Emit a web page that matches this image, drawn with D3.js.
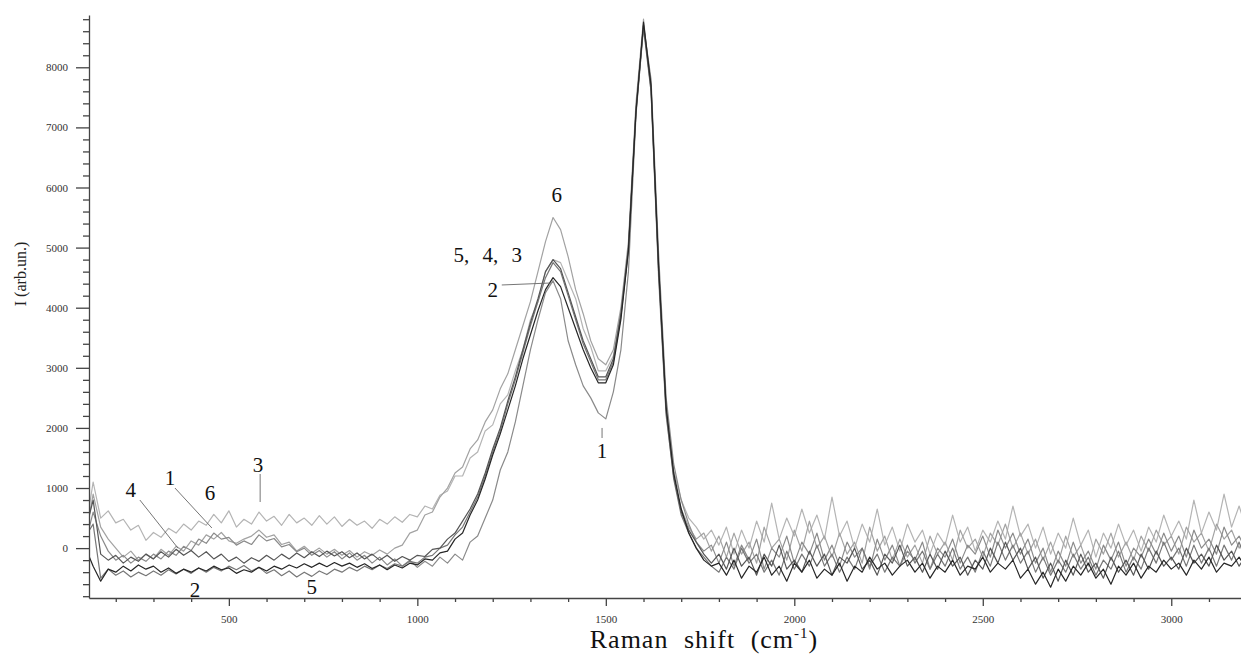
<!DOCTYPE html>
<html>
<head>
<meta charset="utf-8">
<script src="https://cdn.jsdelivr.net/npm/d3@7"></script>
<style>
    body { margin: 0; background: #fff; }
    svg { display: block; font-family: "Liberation Serif", "Times New Roman", serif; }
</style>
</head>
<body>
<div id="ramanChart"></div>
<script>
// Raman spectra of samples 1-6, sampled every 20 cm-1 from 120 cm-1
const shiftStart = 120;
const shiftStep = 20;

const series1 = [
    100, 600, 200, -50, -200, -120, -250, -150, -220, -100,
    -180, -50, -120, 30, -40, 150, 80, 250, 150, 180,
    50, 120, 60, 220, 120, 160, 20, 60, -60, 0,
    -120, -40, -150, -60, -180, -80, -200, -120, -250, -150,
    -280, -180, -300, -200, -320, -220, -300, -150, -250, -100,
    -200, 100, 200, 500, 800, 1300, 1600, 2100, 2700, 3300,
    3800, 4250, 4450, 4150, 3450, 3050, 2700, 2500, 2250, 2150,
    2600, 3300, 4600, 7200, 8700, 7800, 4900, 2500, 1400, 800,
    400, 100, -50, 50, -250, 100, -300, 50, -200, 150,
    -350, 0, -150, 200, -250, 100, -100, 250, -200, 50,
    -300, 100, -150, 0, -350, 150, -200, 50, -300, -50,
    -200, 100, -350, 0, -150, 150, -250, 50, -100, 200,
    -150, 300, 0, 250, -100, 150, -250, 0, -400, -50,
    -300, 100, -250, -50, -350, 50, -200, 100, -300, 0,
    -150, 150, -100, 250, -50, 200, -150, 300, 0, 150,
    -100, 350, 50, 200, -50
];

const series2 = [
    0, -300, -550, -350, -400, -300, -380, -280, -350, -300,
    -400, -330, -420, -350, -400, -330, -380, -300, -360, -330,
    -420, -360, -400, -320, -380, -300, -350, -280, -330, -260,
    -320, -250, -310, -240, -300, -250, -320, -260, -340, -280,
    -360, -280, -330, -250, -280, -180, -200, -80, -50, 150,
    250, 550, 800, 1150, 1550, 1900, 2300, 2700, 3150, 3550,
    3950, 4300, 4500, 4350, 4000, 3650, 3300, 3000, 2750, 2750,
    3050, 3800, 4950, 7250, 8750, 7700, 4700, 2350, 1250, 650,
    250, 0, -200, -300, -250, -450, -200, -500, -300, -400,
    -150, -450, -300, -550, -250, -400, -200, -500, -350, -450,
    -250, -550, -300, -400, -150, -350, -250, -450, -300, -200,
    -400, -250, -500, -300, -400, -200, -450, -300, -350, -150,
    -400, -250, -350, -200, -500, -350, -600, -400, -650, -350,
    -550, -300, -450, -250, -500, -350, -600, -300, -450, -250,
    -500, -300, -400, -200, -350, -250, -450, -200, -350, -150,
    -400, -250, -300, -150, -350
];

const series3 = [
    300, 1100, 500, 620, 420, 480, 300, 380, 130, 260,
    180, 330, 250, 400, 300, 450, 380, 560, 420, 620,
    350, 480, 400, 600, 450, 530, 380, 560, 420, 500,
    380, 540, 400, 520, 360, 480, 380, 450, 330, 480,
    400, 520, 430, 560, 520, 700, 650, 880, 950, 1200,
    1200, 1500, 1600, 1950, 2050, 2400, 2550, 2950, 3300, 3800,
    4100, 4600, 4800, 4750, 4450, 4150, 3650, 3350, 2950, 2950,
    3200, 3900, 5000, 7300, 8700, 7700, 4600, 2300, 1300, 800,
    500, 350, 150, 300, 50, 350, -100, 300, 0, 450,
    100, 750, 150, 500, 200, 650, 250, 550, 150, 850,
    200, 450, 0, 400, 100, 650, 50, 350, -50, 400,
    100, 300, -100, 250, 50, 550, 100, 350, -50, 300,
    100, 450, 150, 700, 200, 400, 0, 350, -100, 250,
    0, 500, 50, 300, -150, 250, 0, 400, 50, 300,
    -50, 350, 100, 550, 200, 450, 150, 800, 250, 600,
    300, 900, 350, 700, 300
];

const series4 = [
    300, 800, -100, -200, -120, -250, -150, -220, -100, -180,
    -60, -150, -20, -120, -40, -150, -60, -180, -100, -220,
    -150, -250, -160, -220, -120, -200, -100, -180, -80, -160,
    -60, -140, -50, -130, -60, -160, -80, -180, -100, -200,
    -120, -220, -140, -200, -120, -140, -20, 0, 150, 250,
    450, 650, 900, 1250, 1650, 2000, 2450, 2850, 3300, 3750,
    4150, 4600, 4800, 4650, 4250, 3850, 3450, 3150, 2850, 2850,
    3150, 3900, 5000, 7300, 8700, 7650, 4650, 2300, 1200, 600,
    300, 100, -100, -250, -100, -350, 0, -300, -150, -450,
    -100, -300, 50, -350, -200, -400, -50, -300, -100, -450,
    -150, -250, 0, -350, -200, -450, -100, -250, 50, -300,
    -150, -400, -100, -350, -50, -300, -150, -450, -200, -350,
    0, -250, 100, -200, 0, -350, -150, -500, -250, -550,
    -200, -450, -100, -400, -250, -500, -150, -400, -200, -450,
    -100, -350, -50, -300, -150, -350, 0, -250, -100, -300,
    50, -200, -50, -300, -100
];

const series5 = [
    200, 400, -500, -350, -450, -380, -480, -400, -460, -380,
    -450, -360, -430, -350, -420, -330, -400, -320, -380, -300,
    -360, -290, -380, -320, -420, -360, -460, -380, -480, -400,
    -470, -380, -440, -350, -400, -320, -380, -300, -360, -280,
    -340, -260, -300, -220, -250, -150, -120, 0, 50, 220,
    350, 600, 850, 1200, 1600, 1950, 2400, 2800, 3250, 3700,
    4100, 4500, 4750, 4600, 4200, 3800, 3400, 3100, 2800, 2800,
    3100, 3850, 4950, 7250, 8650, 7600, 4600, 2250, 1150, 550,
    250, 0, -150, -300, -400, -150, -350, 0, -250, -100,
    -400, -200, -450, -50, -350, -100, -300, 50, -300, -100,
    -400, -150, -350, 0, -300, -100, -400, -150, -300, 50,
    -250, -50, -350, -100, -300, 0, -350, -150, -400, -50,
    -300, 100, -200, 50, -250, -50, -400, -150, -450, -200,
    -400, -100, -350, -150, -450, -200, -350, -50, -400, -150,
    -350, 0, -250, 100, -200, 0, -300, 50, -250, 0,
    -300, 50, -200, 100, -250
];

const series6 = [
    200, 900, 350, 150, 0, -150, -50, -200, -100, -180,
    -20, -120, 30, -50, 120, 50, 220, 150, 260, 120,
    80, 150, 200, 300, 180, 220, 60, 100, -50, 30,
    -80, 0, -100, -20, -120, -40, -150, -60, -120, -30,
    -100, 0, 50, 250, 300, 550, 600, 850, 1000, 1250,
    1350, 1650, 1800, 2100, 2300, 2650, 2900, 3300, 3700, 4100,
    4600, 5100, 5500, 5300, 4850, 4300, 3900, 3450, 3150, 3050,
    3300, 4000, 5100, 7400, 8800, 7600, 4500, 2200, 1200, 650,
    350, 150, 250, -50, 200, -150, 250, -100, 100, -250,
    350, 0, 150, -200, 300, -50, 450, 0, 200, -150,
    250, -100, 100, -250, 350, -50, 200, -200, 150, -150,
    50, -250, 200, -100, 100, -200, 300, 0, 150, -150,
    250, 50, 400, 0, 250, -100, 150, -200, 100, -250,
    200, -150, 50, -300, 150, -100, 250, -150, 100, -200,
    200, -50, 300, 50, 200, -100, 350, 100, 250, -50,
    400, 150, 300, 0, 200
];

const xMajorTicks = [500, 1000, 1500, 2000, 2500, 3000];
const yMajorTicks = [0, 1000, 2000, 3000, 4000, 5000, 6000, 7000, 8000];

// grey shade of each spectrum, lightest drawn first
const spectra = [
    {name: "3", values: series3, color: "#b4b4b4"},
    {name: "6", values: series6, color: "#a2a2a2"},
    {name: "1", values: series1, color: "#8a8a8a"},
    {name: "5", values: series5, color: "#777777"},
    {name: "4", values: series4, color: "#555555"},
    {name: "2", values: series2, color: "#262626"}
];

// curve labels in data units (cm-1, intensity)
const curveLabels = [
    {text: "4", x: 240, y: 850},
    {text: "1", x: 344, y: 1050},
    {text: "6", x: 450, y: 800},
    {text: "3", x: 577, y: 1270},
    {text: "2", x: 410, y: -813},
    {text: "5", x: 720, y: -763},
    {text: "6", x: 1370, y: 5760},
    {text: "5, 4, 3", x: 1187, y: 4760},
    {text: "2", x: 1200, y: 4180},
    {text: "1", x: 1490, y: 1500}
];

const leaderLines = [
    [[264, 800], [365, 0]],
    [[357, 1000], [455, 335]],
    [[583, 1233], [583, 767]],
    [[1224, 4378], [1354, 4411]],
    [[1490, 1832], [1490, 1999]]
];

class RamanChart {
    constructor(containerId) {
        this.container = document.getElementById(containerId);
        this.width = 1241;
        this.height = 661;
        this.x = d3.scaleLinear().domain([129, 3185]).range([89, 1241]);
        this.y = d3.scaleLinear().domain([-830, 8870]).range([598, 15]);
    }

    draw() {
        const svg = d3.select(this.container)
            .append("svg")
            .attr("width", this.width)
            .attr("height", this.height);

        svg.append("rect")
            .attr("width", this.width)
            .attr("height", this.height)
            .attr("fill", "#fff");

        this.drawSpectra(svg);
        this.drawAxes(svg);
        this.drawLabels(svg);
    }

    drawSpectra(svg) {
        svg.append("clipPath")
            .attr("id", "plotClip")
            .append("rect")
            .attr("x", 90)
            .attr("y", 0)
            .attr("width", 1151)
            .attr("height", 597);

        const line = d3.line()
            .x((d, i) => this.x(shiftStart + i * shiftStep))
            .y(d => this.y(d));

        svg.append("g")
            .attr("clip-path", "url(#plotClip)")
            .selectAll("path")
            .data(spectra)
            .enter()
            .append("path")
            .attr("d", d => line(d.values))
            .attr("fill", "none")
            .attr("stroke", d => d.color)
            .attr("stroke-width", 1.2)
            .attr("stroke-linejoin", "round");
    }

    drawAxes(svg) {
        const yMinor = d3.range(-800, 8801, 200).filter(v => v % 1000 !== 0);
        const xMinor = d3.range(200, 3200, 100).filter(v => v % 500 !== 0);

        // minor ticks
        svg.append("g")
            .attr("transform", "translate(89,0)")
            .call(d3.axisLeft(this.y).tickValues(yMinor).tickSize(6).tickFormat(""))
            .call(g => g.select(".domain").remove());

        svg.append("g")
            .attr("transform", "translate(0,598)")
            .call(d3.axisBottom(this.x).tickValues(xMinor).tickSize(4).tickFormat(""))
            .call(g => g.select(".domain").remove());

        // major ticks with labels
        const yAxis = svg.append("g")
            .attr("transform", "translate(89,0)")
            .call(d3.axisLeft(this.y)
                .tickValues(yMajorTicks)
                .tickFormat(d3.format("d"))
                .tickSize(13)
                .tickSizeOuter(0)
                .tickPadding(8));

        const xAxis = svg.append("g")
            .attr("transform", "translate(0,598)")
            .call(d3.axisBottom(this.x)
                .tickValues(xMajorTicks)
                .tickFormat(d3.format("d"))
                .tickSize(8)
                .tickSizeOuter(0)
                .tickPadding(9));

        [yAxis, xAxis].forEach(g => {
            g.selectAll("text")
                .style("font-family", "'Liberation Serif', serif")
                .style("font-size", "11px")
                .attr("fill", "#333");
        });

        svg.selectAll(".tick line, .domain")
            .attr("stroke", "#444")
            .attr("stroke-width", 1.3);

        // axis titles
        svg.append("text")
            .attr("transform", "translate(26,274) rotate(-90)")
            .attr("text-anchor", "middle")
            .style("font-size", "16px")
            .attr("fill", "#222")
            .text("I (arb.un.)");

        const title = svg.append("text")
            .attr("x", 704)
            .attr("y", 648)
            .attr("text-anchor", "middle")
            .style("font-size", "26px")
            .style("letter-spacing", "1px")
            .style("word-spacing", "8px")
            .attr("fill", "#111")
            .text("Raman shift (cm");
        title.append("tspan")
            .attr("dy", -10)
            .style("font-size", "15px")
            .text("-1");
        title.append("tspan")
            .attr("dy", 10)
            .text(")");
    }

    drawLabels(svg) {
        svg.append("g")
            .selectAll("line")
            .data(leaderLines)
            .enter()
            .append("line")
            .attr("x1", d => this.x(d[0][0]))
            .attr("y1", d => this.y(d[0][1]))
            .attr("x2", d => this.x(d[1][0]))
            .attr("y2", d => this.y(d[1][1]))
            .attr("stroke", "#666")
            .attr("stroke-width", 0.9);

        svg.append("g")
            .selectAll("text")
            .data(curveLabels)
            .enter()
            .append("text")
            .attr("x", d => this.x(d.x))
            .attr("y", d => this.y(d.y))
            .attr("text-anchor", "middle")
            .style("font-size", "21px")
            .style("word-spacing", "8px")
            .attr("fill", "#111")
            .text(d => d.text);
    }
}

const chart = new RamanChart("ramanChart");
chart.draw();
</script>
</body>
</html>
